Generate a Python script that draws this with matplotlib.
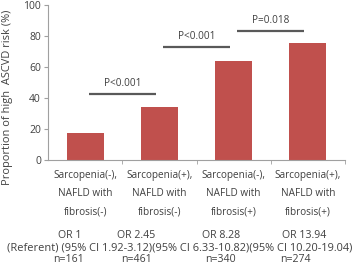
import matplotlib
matplotlib.use("Agg")
import matplotlib.pyplot as plt

# data
groups = ["Sarcopenia(-),\nNAFLD with\nfibrosis(-)",
          "Sarcopenia(+),\nNAFLD with\nfibrosis(-)",
          "Sarcopenia(-),\nNAFLD with\nfibrosis(+)",
          "Sarcopenia(+),\nNAFLD with\nfibrosis(+)"]
values = [17.5, 34.5, 64.0, 75.3]
or_labels = ["OR 1", "OR 2.45", "OR 8.28", "OR 13.94"]
ci_labels = ["(Referent)", "(95% CI 1.92-3.12)", "(95% CI 6.33-10.82)", "(95% CI 10.20-19.04)"]
n_labels = ["n=161", "n=461", "n=340", "n=274"]
# comparisons: (left, right, line height, label)
comparisons = [(0, 1, 42.8, "P<0.001"), (1, 2, 73.0, "P<0.001"), (2, 3, 83.4, "P=0.018")]

plt.rcParams['font.family'] = ['Open Sans', 'DejaVu Sans']
fs = 7.2
txt_col = "#404040"

fig = plt.figure(figsize=(3.59, 2.68), dpi=100)
ax = fig.add_axes([48/359, 1-160/268, (345-48)/359, 155/268])

x = list(range(len(values)))
ax.bar(x, values, width=0.5, color="#c0504d", zorder=2)
ax.set_xlim(-0.5, len(values) - 0.5)
ax.set_ylim(0, 100)
ax.set_yticks(range(0, 101, 20))
ax.tick_params(axis="y", labelsize=fs + 0.3, colors="#a0a0a0", labelcolor=txt_col, length=3, pad=2)

ax.set_xticks(x)
ax.set_xticklabels(groups, fontsize=fs, color=txt_col, linespacing=1.9)
ax.tick_params(axis="x", length=0, pad=7)
ax.set_xticks([i + 0.5 for i in x], minor=True)
ax.tick_params(axis="x", which="minor", length=3, color="#a0a0a0")

for s in ["top", "right"]:
    ax.spines[s].set_visible(False)
for s in ["left", "bottom"]:
    ax.spines[s].set_color("#a0a0a0")
    ax.spines[s].set_linewidth(0.8)

ax.set_ylabel("Proportion of high  ASCVD risk (%)", fontsize=7.9, color=txt_col)
ax.yaxis.set_label_coords(-0.118, 0.405)

# significance lines
for a, b, h, lab in comparisons:
    ax.plot([a + 0.05, b - 0.05], [h, h], color="#595959", lw=1.6, solid_capstyle="butt")
    ax.text((a + b) / 2, h + 3, lab, ha="center", va="bottom", fontsize=fs, color=txt_col)

# bottom annotation rows
or_x = [70, 136, 221, 304]
n_x = [69, 136, 220, 295]
for lab, px in zip(or_labels, or_x):
    fig.text(px / 359, 1 - 236/268, lab, ha="center", va="center", fontsize=fs + 0.4, color=txt_col)
fig.text(180 / 359, 1 - 248/268, " ".join(ci_labels[:2]) + "".join(ci_labels[2:]),
         ha="center", va="center", fontsize=7.9, color=txt_col)
for lab, px in zip(n_labels, n_x):
    fig.text(px / 359, 1 - 260/268, lab, ha="center", va="center", fontsize=fs + 0.4, color=txt_col)

fig.savefig("out.png", dpi=100)
